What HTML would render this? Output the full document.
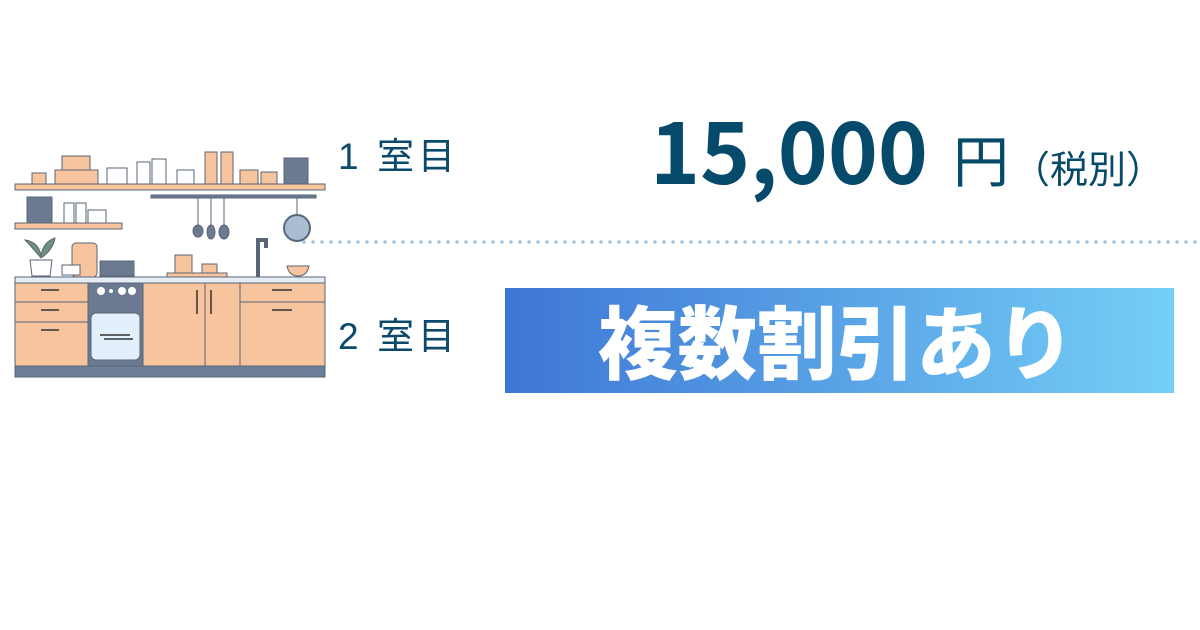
<!DOCTYPE html>
<html><head><meta charset="utf-8"><style>
html,body{margin:0;padding:0;background:#fff;width:1200px;height:630px;overflow:hidden}
svg{display:block}
</style></head><body>
<svg width="1200" height="630" viewBox="0 0 1200 630" xmlns="http://www.w3.org/2000/svg">
<defs>
<linearGradient id="g" x1="0" x2="1" y1="0" y2="0">
<stop offset="0" stop-color="#3e76d5"/><stop offset="1" stop-color="#74cff6"/>
</linearGradient>
</defs>
<g stroke="#5a6577" stroke-width="1">
<rect x="32" y="173" width="14" height="11" fill="#f8c49d"/>
<rect x="62" y="156" width="28" height="14" fill="#f8c49d"/>
<rect x="55" y="170" width="43" height="14" fill="#f8c49d"/>
<rect x="107" y="168" width="20" height="16" fill="#fff"/>
<rect x="137" y="162" width="13" height="22" fill="#fff"/>
<rect x="152" y="159" width="14" height="25" fill="#fff"/>
<rect x="177" y="170" width="17" height="14" fill="#fff"/>
<rect x="205" y="152" width="12" height="32" fill="#f8c49d"/>
<rect x="221" y="152" width="12" height="32" fill="#f8c49d"/>
<rect x="240" y="170" width="18" height="14" fill="#f8c49d"/>
<rect x="261" y="172" width="16" height="12" fill="#f8c49d"/>
<rect x="284" y="158" width="24" height="26" fill="#6b7a90"/>
<rect x="15" y="184" width="310" height="6" fill="#f8c49d"/>
<rect x="27" y="197" width="25" height="26" fill="#6b7a90"/>
<rect x="64" y="203" width="10" height="20" fill="#fff"/>
<rect x="76" y="203" width="10" height="20" fill="#fff"/>
<rect x="88" y="210" width="18" height="13" fill="#fff"/>
<rect x="15" y="223" width="107" height="6" fill="#f8c49d"/>
<rect x="151" y="195" width="165" height="3" fill="#6b7a90"/>
<line x1="198" y1="198" x2="198" y2="228"/><line x1="211" y1="198" x2="211" y2="228"/><line x1="224" y1="198" x2="224" y2="228"/><line x1="297" y1="198" x2="297" y2="218"/>
<ellipse cx="198" cy="231" rx="5" ry="6" fill="#6b7a90"/>
<ellipse cx="211" cy="232" rx="4" ry="7" fill="#6b7a90"/>
<ellipse cx="224" cy="232" rx="5" ry="7" fill="#6b7a90"/>
<circle cx="297" cy="228" r="13" fill="#a9bdd1" stroke-width="2"/>
<path d="M30 260 h22 l-2 16 h-18 z" fill="#fff"/>
<path d="M41 258 q-10-12-16-18 q14 2 16 16 q2-14 14-18 q-2 12-14 20" fill="#6f927a"/>
<rect x="72" y="243" width="25" height="34" rx="4" fill="#f8c49d"/>
<rect x="62" y="265" width="18" height="10" fill="#fff"/>
<rect x="100" y="261" width="34" height="15" fill="#6b7a90"/>
<rect x="175" y="255" width="17" height="18" fill="#f8c49d"/>
<rect x="202" y="264" width="15" height="9" fill="#f8c49d"/>
<rect x="167" y="273" width="60" height="4" fill="#f8c49d"/>
<path d="M258 277 v-37 h8 v8" fill="none" stroke="#5a6577" stroke-width="4"/>
<path d="M287 266 h22 q-2 10 -11 10 q-9 0 -11 -10z" fill="#f8c49d"/>
<rect x="15" y="277" width="310" height="6" fill="#e6edf4"/>
<rect x="15" y="283" width="73" height="83" fill="#f8c49d"/>
<line x1="15" y1="302" x2="88" y2="302"/><line x1="15" y1="322" x2="88" y2="322"/>
<rect x="88" y="283" width="55" height="83" fill="#6b7a90"/>
<rect x="91" y="313" width="49" height="47" rx="5" fill="#e3f0fb"/>
<rect x="143" y="283" width="97" height="83" fill="#f8c49d"/>
<line x1="205" y1="283" x2="205" y2="366"/>
<rect x="240" y="283" width="85" height="83" fill="#f8c49d"/>
<line x1="240" y1="302" x2="325" y2="302"/>
<rect x="15" y="366" width="310" height="11" fill="#6b7f98"/>
</g>
<g stroke="#333" stroke-width="1.5">
<line x1="41" y1="290" x2="59" y2="290"/><line x1="41" y1="310" x2="59" y2="310"/><line x1="41" y1="330" x2="59" y2="330"/>
<line x1="100" y1="335" x2="130" y2="335"/><line x1="104" y1="339" x2="133" y2="339"/>
<line x1="197" y1="290" x2="197" y2="314"/><line x1="211" y1="290" x2="211" y2="314"/>
<line x1="272" y1="290" x2="292" y2="290"/><line x1="272" y1="310" x2="292" y2="310"/>
</g>
<g fill="#fff"><circle cx="101" cy="291" r="4"/><circle cx="132" cy="291" r="4"/><circle cx="122" cy="291" r="4"/><circle cx="111" cy="291" r="2"/></g>
<line x1="304" y1="242" x2="1200" y2="242" stroke="#9cc4e4" stroke-width="3.5" stroke-dasharray="0 9" stroke-linecap="round"/>
<g font-family="'Liberation Sans','Noto Sans CJK JP',sans-serif" fill="#0b4a6b">
<text x="338" y="169" font-size="37" textLength="117" lengthAdjust="spacing">1 室目</text>
<text x="338" y="349" font-size="37" textLength="117" lengthAdjust="spacing">2 室目</text>
<text x="650" y="184" font-size="86" font-weight="bold" fill="#064a6b" font-family="'Noto Sans CJK JP',sans-serif" textLength="278" lengthAdjust="spacingAndGlyphs">15,000</text>
<text x="953" y="182" font-size="56" font-family="'Noto Sans CJK JP',sans-serif" fill="#064a6b">円</text>
<text x="1012" y="183" font-size="38" font-family="'Noto Sans CJK JP',sans-serif" fill="#064a6b">（税別）</text>
</g>
<rect x="505" y="288" width="669" height="105" fill="url(#g)"/>
<text x="598" y="373" font-size="80" font-weight="900" fill="#fff" font-family="'Noto Sans CJK JP',sans-serif" textLength="477" lengthAdjust="spacingAndGlyphs">複数割引あり</text>
</svg>
</body></html>
